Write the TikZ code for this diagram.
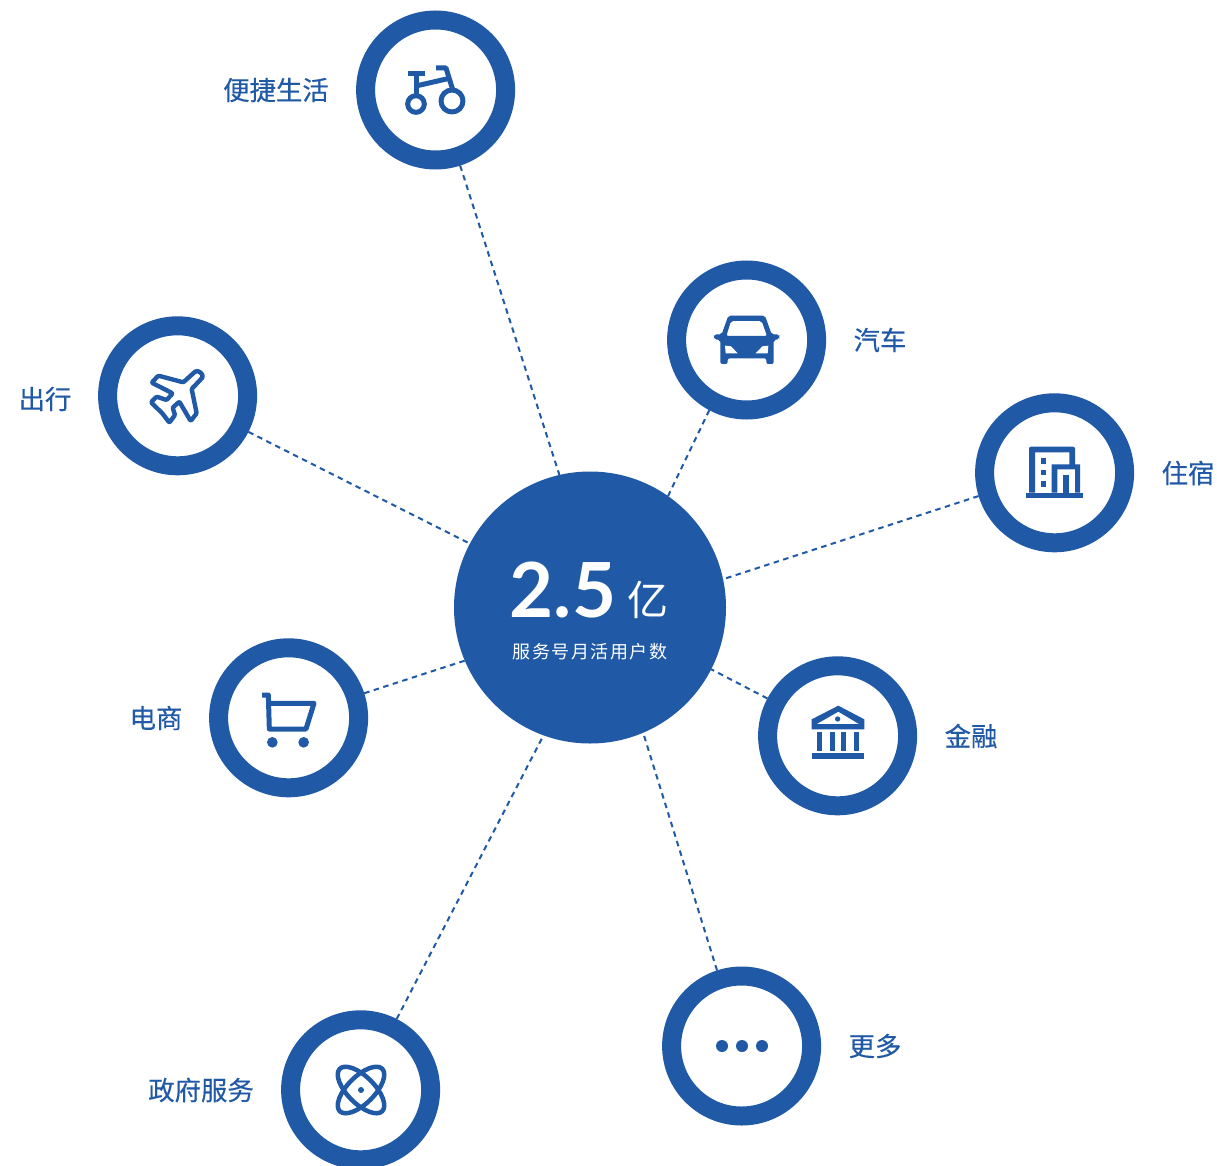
\documentclass[tikz,border=0pt]{standalone}
\usepackage{fontspec}
\setmainfont{Noto Sans CJK SC}
\newfontfamily\labfont[FakeBold=0.35]{Noto Sans CJK SC}
\newfontfamily\numfont{Lato}
\definecolor{brand}{HTML}{205AA7}
\tikzset{
  ring/.style={circle,draw=brand,line width=19pt,fill=white,minimum size=140pt,inner sep=0pt},
  hubdisc/.style={circle,fill=brand,minimum size=272pt,inner sep=0pt,outer sep=0pt},
  link/.style={draw=brand,line width=2pt,dash pattern=on 5.5pt off 4.5pt},
  lab/.style={text=brand,font=\labfont\fontsize{26.4pt}{28pt}\selectfont,inner sep=0pt},
  ico/.style={draw=brand,line width=5pt,line join=round},
  icf/.style={fill=brand,draw=none}
}
\begin{document}
\begin{tikzpicture}[x=1pt,y=-1pt]
\clip (0,0) rectangle (1217,1166);
\fill[white] (0,0) rectangle (1217,1166);
\node[hubdisc] (hub) at (590,607.5) {};
\node[ring] (bike) at (435.6,90) {};
\node[ring] (plane) at (177.6,395.8) {};
\node[ring] (car) at (746.6,340) {};
\node[ring] (bld) at (1054.6,472.8) {};
\node[ring] (bank) at (837.6,735.8) {};
\node[ring] (cart) at (288.6,717.8) {};
\node[ring] (atom) at (360.6,1089.8) {};
\node[ring] (more) at (741.6,1046) {};
\draw[link] (bike.-72.7) -- (hub.103.1);
\draw[link] (plane.-27.5) -- (hub.152.9);
\draw[link] (car.-118.5) -- (hub.55.4);
\draw[link] (bld.-163.4) -- (hub.12.6);
\draw[link] (bank.152.5) -- (hub.-27.9);
\draw[link] (cart.18.4) -- (hub.-157.1);
\draw[link] (atom.63.1) -- (hub.-110.4);
\draw[link] (more.108.2) -- (hub.-67.7);
% labels
\node[lab] (l1) at (276,90) {便捷生活};
\node[lab] (l2) at (45,399) {出行};
\node[lab] (l3) at (880,340) {汽车};
\node[lab] (l4) at (1188,473) {住宿};
\node[lab] (l5) at (971,736) {金融};
\node[lab] (l6) at (156,718) {电商};
\node[lab] (l7) at (201,1090) {政府服务};
\node[lab] (l8) at (875,1046) {更多};
% hub text
\node[text=white,inner sep=0pt,font=\numfont\fontsize{76pt}{80pt}\selectfont\bfseries] (big) at (563,590) {2.5};
\node[text=white,inner sep=0pt,font=\fontsize{41pt}{44pt}\selectfont] (yi) at (648,600) {亿};
\node[text=white,inner sep=0pt,font=\fontsize{18pt}{22pt}\selectfont\addfontfeature{LetterSpace=8}] (cap) at (590,651.5) {服务号月活用户数};
% bike
\begin{scope}[shift={(380,40)},x=0.3333pt,y=-0.3333pt]
  \fill[brand] (85,94) rectangle (135,108);
  \draw[ico] (108,100) -- (108,165);
  \draw[ico] (112,137) -- (208,115);
  \draw[ico,line join=round] (168,84) -- (198,84) -- (220,155);
  \draw[ico] (108,192) circle (25);
  \draw[ico] (216,183) circle (33);
\end{scope}
% plane
\begin{scope}[shift={(125,345)},x=0.3333pt,y=-0.3333pt]
  \draw[ico,line width=4.4pt,rounded corners=1pt]
    (175,112) -- (208,82) to[out=40,in=90,looseness=1.1] (233,97) -- (200,132) -- (215,205) -- (197,228) -- (163,170) -- (143,188) -- (150,210) -- (133,233) -- (112,205) -- (78,172) -- (95,155) -- (125,165) -- (143,145) -- (80,113) -- (100,92) -- cycle;
\end{scope}
% car
\begin{scope}[shift={(695,295)},x=0.3333pt,y=-0.3333pt]
  \fill[brand,even odd rule,rounded corners=2pt]
    (100,62) -- (210,62) -- (230,118) -- (252,118) -- (254,125) -- (252,133) -- (236,135) -- (236,207) -- (214,207) -- (214,190) -- (98,190) -- (98,207) -- (76,207) -- (76,135) -- (58,133) -- (56,125) -- (58,118) -- (80,118) -- cycle
    (108,78) -- (200,78) -- (216,123) -- (94,123) -- cycle;
  \fill[white] (90,152) -- (108,154) -- (128,175) -- (92,175) -- cycle;
  \fill[white] (220,152) -- (202,154) -- (182,175) -- (218,175) -- cycle;
\end{scope}
% building
\begin{scope}[shift={(1005,425)},x=0.3333pt,y=-0.3333pt]
  \fill[brand] (63,203) rectangle (233,218);
  \fill[brand,even odd rule] (72,203) -- (72,71) to[out=90,in=180] (78,65) -- (204,65) to[out=0,in=90] (210,71) -- (210,118) -- (225,118) -- (225,203) -- (210,203) -- (210,133) -- (157,133) -- (157,203) -- (140,203) -- (140,118) -- (193,118) -- (193,82) -- (90,82) -- (90,203) -- cycle;
  \fill[brand] (175,150) -- (192,150) -- (192,203) -- (175,203) -- cycle;
  \fill[brand] (107,100) rectangle (123,117);
  \fill[brand] (107,134) rectangle (123,150);
  \fill[brand] (107,168) rectangle (123,185);
\end{scope}
% bank
\begin{scope}[shift={(790,690)},x=0.3333pt,y=-0.3333pt]
  \fill[brand,even odd rule] (145,47) -- (223,88) -- (223,118) -- (65,118) -- (65,88) -- cycle (145,65) -- (207,102) -- (80,102) -- cycle;
  \fill[brand] (143,87) circle (8);
  \foreach \a/\b in {80/97,120/136,152/168,192/208}{\fill[brand] (\a,127) rectangle (\b,182);}
  \fill[brand] (65,190) rectangle (223,206);
\end{scope}
% cart
\begin{scope}[shift={(240,675)},x=0.3333pt,y=-0.3333pt]
  \draw[ico] (66,60) -- (85,60) -- (88,162) -- (198,162) -- (222,85) -- (90,85);
  \fill[brand] (97,202) circle (16);
  \fill[brand] (191,202) circle (16);
\end{scope}
% atom
\begin{scope}[shift={(361,1090)}]
  \draw[ico,line width=4.5pt,rotate=45] (0,0) ellipse (30 and 13.5);
  \draw[ico,line width=4.5pt,rotate=-45] (0,0) ellipse (30 and 13.5);
  \fill[brand] (0,0) circle (3);
\end{scope}
% more
\fill[brand] (722,1046) circle (6);
\fill[brand] (742,1046) circle (6);
\fill[brand] (762,1046) circle (6);
\end{tikzpicture}
\end{document}
